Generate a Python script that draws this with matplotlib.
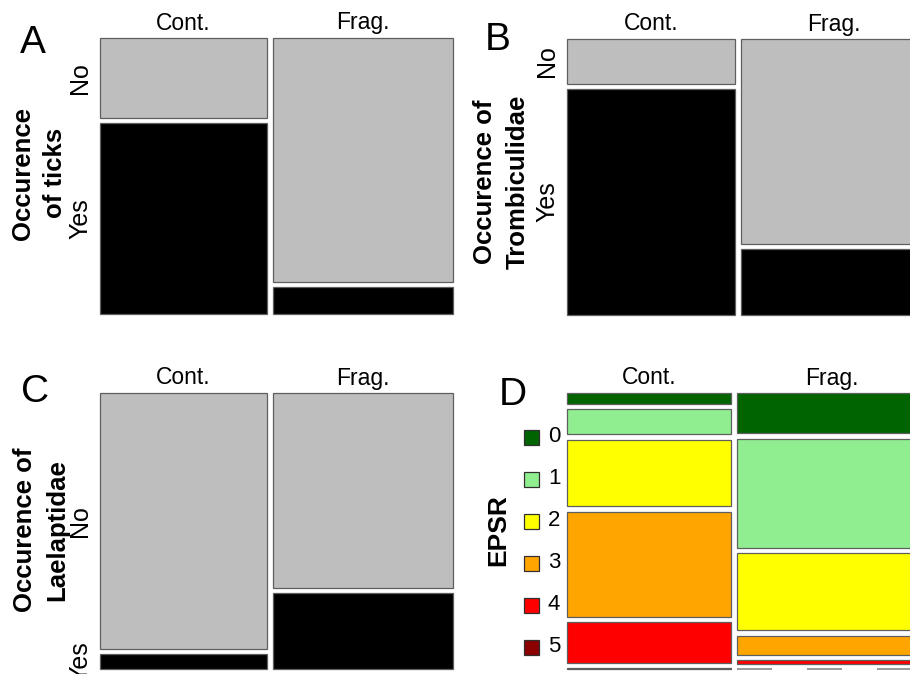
import numpy as np
import matplotlib
matplotlib.use("Agg")
import matplotlib.pyplot as plt
from matplotlib.patches import Rectangle

plt.rcParams['font.family'] = ['Liberation Sans', 'DejaVu Sans']

sites = ["Cont.", "Frag."]
yes_no = ["No", "Yes"]

# share of the first column (Cont.) in each panel
share_a = 0.481
share_b = 0.472
share_c = 0.481
share_d = 0.462

ticks_no = [0.295, 0.900]        # proportion "No" in Cont., Frag.
tromb_no = [0.166, 0.756]
lael_no = [0.943, 0.718]

epsr_levels = ["0", "1", "2", "3", "4", "5"]
epsr_cont = [0.043, 0.101, 0.267, 0.424, 0.161, 0.004]
epsr_frag = [0.162, 0.438, 0.311, 0.076, 0.013, 0.0]
epsr_colors = ['#006400', '#90EE90', '#FFFF00', '#FFA500', '#FF0000', '#8B0000']

FW, FH = 910, 674
EDGE = '#5f5f5f'


def panel_axes(fig, x, y, w, h):
    # pixel box -> figure axes, data units in pixels (y down)
    ax = fig.add_axes([x / FW, 1 - (y + h) / FH, w / FW, h / FH])
    ax.set_xlim(0, w)
    ax.set_ylim(h, 0)
    ax.axis('off')
    return ax


def mosaic(ax, w, h, share, cols, colors, gx=6, gy=5.5):
    widths = [(w - gx) * share, (w - gx) * (1 - share)]
    x0 = 0
    first_centers = []
    for j, fr in enumerate(cols):
        avail = h - gy * (len(fr) - 1)
        y = 0
        for k, f in enumerate(fr):
            hh = f * avail
            if hh > 0:
                ax.add_patch(Rectangle((x0, y), widths[j], hh, facecolor=colors[k],
                                       edgecolor=EDGE, linewidth=0.9, clip_on=False))
            else:
                # empty cell -> dashed line
                ax.plot([x0, x0 + widths[j]], [y, y], color='#9a9a9a', lw=1.4,
                        linestyle=(0, (18, 18)), clip_on=False)
            if j == 0:
                first_centers.append(y + hh / 2)
            y += hh + gy
        ax.text(x0 + widths[j] / 2, -15, sites[j], ha='center', va='center', fontsize=16.5)
        x0 += widths[j] + gx
    return first_centers


def yes_no_panel(fig, box, share, no, letter, ylabel, lab_x, letter_xy):
    x, y, w, h = box
    ax = panel_axes(fig, x, y, w, h)
    cols = [[no[0], 1 - no[0]], [no[1], 1 - no[1]]]
    centers = mosaic(ax, w, h, share, cols, ['#BEBEBE', 'black'], gy=5)
    for lab, c in zip(yes_no, centers):
        ax.text(-20, c, lab, rotation=90, ha='center', va='center', fontsize=18)
    ax.text(lab_x[0], lab_x[1], ylabel, rotation=90, ha='center', va='center',
            fontsize=18.5, fontweight='bold', multialignment='center', linespacing=1.45)
    ax.text(letter_xy[0], letter_xy[1], letter, ha='center', va='center', fontsize=28)


fig = plt.figure(figsize=(FW / 100, FH / 100), dpi=100)

# A
yes_no_panel(fig, (100, 38, 353, 276), share_a, ticks_no, "A",
             "Occurence\nof ticks", (-61, 135), (-67, 5))
# B
yes_no_panel(fig, (567, 39, 361, 276), share_b, tromb_no, "B",
             "Occurence of\nTrombiculidae", (-66, 143), (-69, 1))
# C
yes_no_panel(fig, (100, 393, 353, 276), share_c, lael_no, "C",
             "Occurence of\nLaelaptidae", (-59, 137), (-65, -1))

# D
x, y, w, h = 567, 393, 360, 276
axd = panel_axes(fig, x, y, w, h)
mosaic(axd, w, h, share_d, [epsr_cont, epsr_frag], epsr_colors)
for i, (lev, col) in enumerate(zip(epsr_levels, epsr_colors)):
    yc = 44 + 42 * i
    axd.add_patch(Rectangle((-43, yc - 7.5), 15, 15, facecolor=col, edgecolor='#303030',
                            linewidth=0.9, clip_on=False))
    axd.text(-19, yc, lev, ha='left', va='center', fontsize=16)
axd.text(-69, 137, "EPSR", rotation=90, ha='center', va='center', fontsize=19,
         fontweight='bold')
axd.text(-54, 2, "D", ha='center', va='center', fontsize=28)

fig.savefig('out.png', dpi=100, facecolor='white')
